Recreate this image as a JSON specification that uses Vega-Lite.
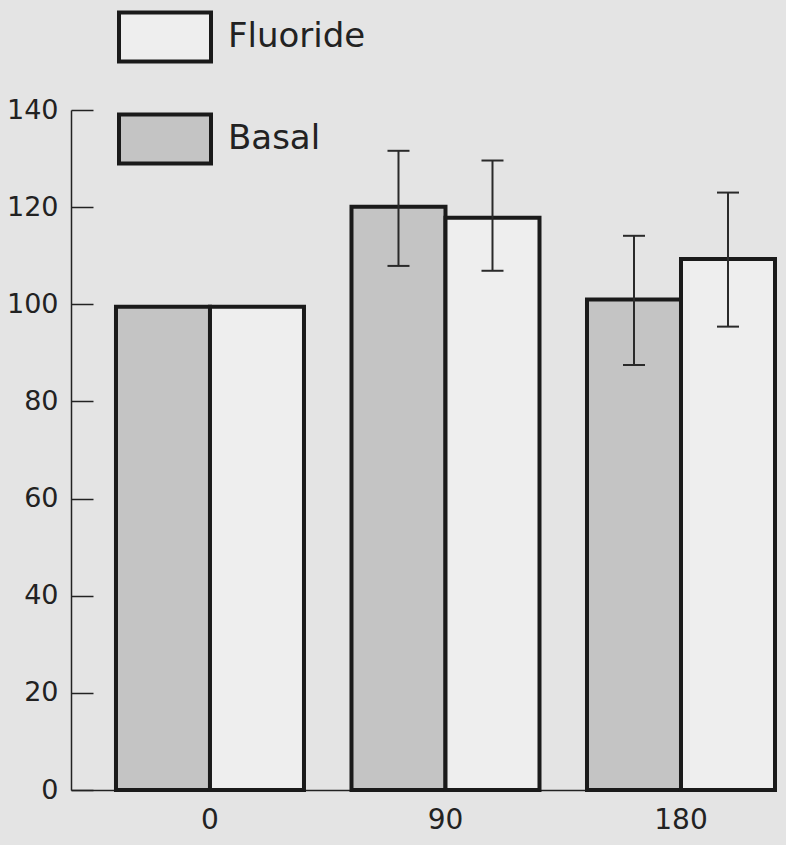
{
  "$schema": "https://vega.github.io/schema/vega-lite/v6.json",
  "width": 704,
  "height": 680,
  "autosize": "none",
  "padding": {"left": 71, "top": 110, "right": 11, "bottom": 55},
  "background": "#e4e4e4",
  "config": {"view": {"stroke": null}, "font": "DejaVu Sans"},
  "data": {
    "values": [
      {"group": "0", "series": "Basal", "value": 99.5, "lo": null, "hi": null},
      {"group": "0", "series": "Fluoride", "value": 99.5, "lo": null, "hi": null},
      {"group": "90", "series": "Basal", "value": 120.1, "lo": 107.9, "hi": 131.6},
      {"group": "90", "series": "Fluoride", "value": 117.8, "lo": 106.9, "hi": 129.6},
      {"group": "180", "series": "Basal", "value": 101.0, "lo": 87.5, "hi": 114.1},
      {"group": "180", "series": "Fluoride", "value": 109.3, "lo": 95.4, "hi": 123.0}
    ]
  },
  "encoding": {
    "x": {
      "field": "group",
      "type": "ordinal",
      "sort": ["0", "90", "180"],
      "scale": {"paddingInner": 0.2017, "paddingOuter": 0.0955, "align": 1},
      "axis": {
        "title": null,
        "ticks": false,
        "labelAngle": 0,
        "labelPadding": 16,
        "labelFont": "DejaVu Sans",
        "labelFontSize": 28,
        "labelColor": "#222222",
        "domainColor": "#222222",
        "domainWidth": 1.5
      }
    },
    "xOffset": {
      "field": "series",
      "type": "nominal",
      "sort": ["Basal", "Fluoride"],
      "scale": {"paddingInner": 0, "paddingOuter": 0}
    }
  },
  "layer": [
    {
      "mark": {"type": "bar", "stroke": "#1a1a1a", "strokeWidth": 4, "opacity": 1},
      "encoding": {
        "y": {
          "field": "value",
          "type": "quantitative",
          "scale": {"domain": [0, 140], "nice": false},
          "axis": {
            "title": null,
            "grid": false,
            "values": [0, 20, 40, 60, 80, 100, 120, 140],
            "tickSize": -22,
            "tickWidth": 1.5,
            "tickColor": "#222222",
            "domainColor": "#222222",
            "domainWidth": 1.5,
            "labelPadding": 35,
            "labelFont": "DejaVu Sans",
            "labelFontSize": 27,
            "labelColor": "#222222"
          }
        },
        "fill": {
          "field": "series",
          "type": "nominal",
          "scale": {"domain": ["Fluoride", "Basal"], "range": ["#eeeeee", "#c4c4c4"]},
          "legend": {
            "orient": "none",
            "legendX": 46,
            "legendY": -121,
            "title": null,
            "padding": 0,
            "symbolType": "M-1,-0.53H1V0.53H-1Z",
            "symbolSize": 8464,
            "symbolStrokeColor": "#1a1a1a",
            "symbolStrokeWidth": 4,
            "symbolOpacity": 1,
            "labelFont": "DejaVu Sans",
            "labelFontSize": 34,
            "labelOffset": 15,
            "labelColor": "#222222",
            "rowPadding": 21
          }
        }
      }
    },
    {
      "transform": [{"filter": "datum.hi != null"}],
      "mark": {"type": "rule", "color": "#2a2a2a", "strokeWidth": 2},
      "encoding": {
        "y": {"field": "lo", "type": "quantitative"},
        "y2": {"field": "hi"}
      }
    },
    {
      "transform": [{"filter": "datum.hi != null"}],
      "mark": {"type": "tick", "color": "#2a2a2a", "size": 22, "thickness": 2, "opacity": 1},
      "encoding": {
        "y": {"field": "hi", "type": "quantitative"}
      }
    },
    {
      "transform": [{"filter": "datum.hi != null"}],
      "mark": {"type": "tick", "color": "#2a2a2a", "size": 22, "thickness": 2, "opacity": 1},
      "encoding": {
        "y": {"field": "lo", "type": "quantitative"}
      }
    }
  ]
}
